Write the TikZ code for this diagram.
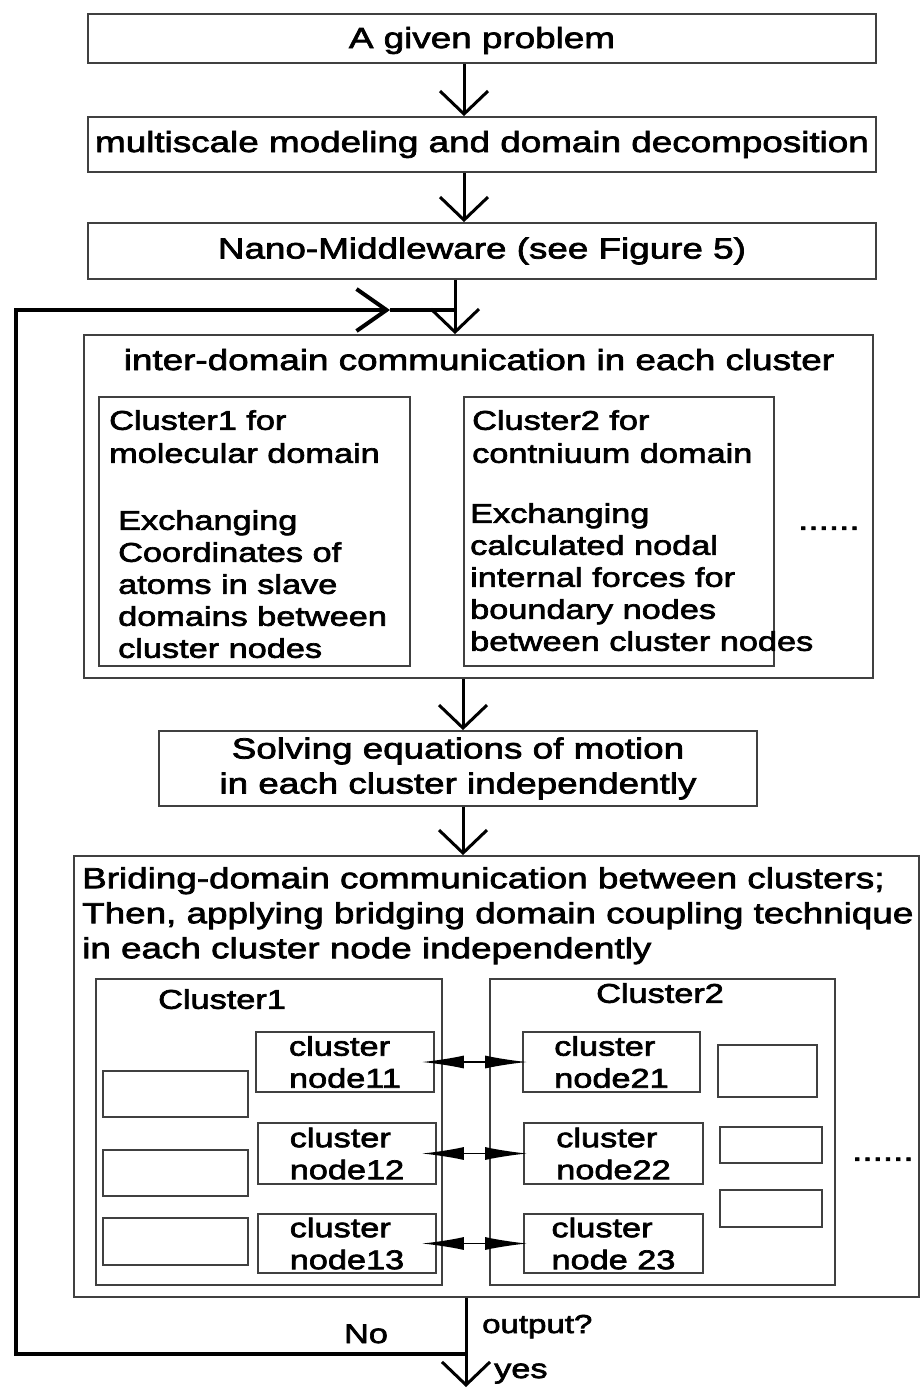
\documentclass[tikz,border=0pt]{standalone}
\usepackage{fontspec}
\setmainfont{Liberation Sans}[FakeStretch=1.27,FakeBold=2.5]
\usetikzlibrary{arrows.meta}

\tikzset{
  box/.style={draw=black!75,line width=1.8pt,inner sep=0pt,align=center},
  txt/.style={inner sep=0pt,align=left},
  small/.style={font=\fontsize{27}{32}\selectfont},
  flow/.style={line width=3pt,-{Straight Barb[length=23pt,width=48pt]}},
  loopline/.style={line width=4pt},
  dbl/.style={line width=1.5pt,{Latex[length=42pt,width=13pt]}-{Latex[length=42pt,width=13pt]}},
}

\begin{document}
\begin{tikzpicture}[x=1pt,y=-1pt,font=\fontsize{29}{32}\selectfont]
\useasboundingbox (0,0) rectangle (921,1390);
\coordinate (ax) at (464,0);
\coordinate (bx) at (455,0);
\coordinate (cx) at (463,0);
\coordinate (dx) at (466,0);
\coordinate (lb) at (16,1354);
\coordinate (lt) at (16,310);
\coordinate (lm) at (390,310);
\coordinate (lj) at (455,310);
\coordinate (yj) at (466,1354);
\coordinate (fin) at (466,1387);
\node[box,minimum width=788pt,minimum height=49pt,text depth=2pt] (given) at (482,38.5) {A given problem};
\node[box,minimum width=788pt,minimum height=55pt] (model) at (482,144.5) {multiscale modeling and domain decomposition};
\node[box,minimum width=788pt,minimum height=56pt] (nano) at (482,251) {Nano-Middleware (see Figure 5)};
\node[box,minimum width=789pt,minimum height=343pt] (inter) at (478.5,506.5) {};
\node[txt,anchor=base] (intertitle) at (479,370) {inter-domain communication in each cluster};
\node[box,minimum width=311pt,minimum height=269pt] (desc1) at (254.5,531.5) {};
\node[box,minimum width=310pt,minimum height=269pt] (desc2) at (619,531.5) {};
\node[txt,small,anchor=north west,font=\fontsize{27}{33}\selectfont] (head1) at (109,410) {Cluster1 for\\molecular domain};
\node[txt,small,anchor=north west] (job1) at (118,510) {Exchanging\\Coordinates of\\atoms in slave\\domains between\\cluster nodes};
\node[txt,small,anchor=north west,font=\fontsize{27}{33}\selectfont] (head2) at (472,410) {Cluster2 for\\contniuum domain};
\node[txt,small,anchor=north west] (job2) at (470,503) {Exchanging\\calculated nodal\\internal forces for\\boundary nodes\\between cluster nodes};
\node[txt,anchor=south west] (more1) at (798,530) {......};
\node[box,minimum width=598pt,minimum height=75pt,font=\fontsize{29}{35}\selectfont] (solve) at (458,768.5) {Solving equations of motion\\in each cluster independently};
\node[box,minimum width=845pt,minimum height=441pt] (bridge) at (496.5,1076.5) {};
\node[txt,anchor=north west,font=\fontsize{29}{35}\selectfont] (bridgetitle) at (82,867) {Briding-domain communication between clusters;\\Then, applying bridging domain coupling technique\\in each cluster node independently};
\node[box,minimum width=346pt,minimum height=306pt] (c1) at (269,1132) {};
\node[box,minimum width=345pt,minimum height=306pt] (c2) at (662.5,1132) {};
\node[txt,small,anchor=north west] (c1name) at (158,989) {Cluster1};
\node[txt,small,anchor=north west] (c2name) at (596,983) {Cluster2};
\node[box,small,align=left,minimum width=178pt,minimum height=60pt] (n11) at (345,1062) {cluster\\node11};
\node[box,small,align=left,minimum width=178pt,minimum height=61pt] (n12) at (347,1153.5) {cluster\\node12};
\node[box,small,align=left,minimum width=178pt,minimum height=59pt] (n13) at (347,1243.5) {cluster\\node13};
\node[box,small,align=left,minimum width=177pt,minimum height=60pt] (n21) at (611.5,1062) {cluster\\node21};
\node[box,small,align=left,minimum width=179pt,minimum height=61pt] (n22) at (613.5,1153.5) {cluster\\node22};
\node[box,small,align=left,minimum width=179pt,minimum height=59pt] (n23) at (613.5,1243.5) {cluster\\node 23};
\node[box,minimum width=145pt,minimum height=46pt] (e11) at (175.5,1094) {};
\node[box,minimum width=145pt,minimum height=46pt] (e12) at (175.5,1173) {};
\node[box,minimum width=145pt,minimum height=47pt] (e13) at (175.5,1241.5) {};
\node[box,minimum width=99pt,minimum height=52pt] (e21) at (767.5,1071) {};
\node[box,minimum width=102pt,minimum height=36pt] (e22) at (771,1145) {};
\node[box,minimum width=102pt,minimum height=37pt] (e23) at (771,1208.5) {};
\node[txt,anchor=south west] (more2) at (852,1161) {......};
\node[txt,anchor=base west,font=\fontsize{26}{32}\selectfont] (ask) at (482,1333) {output?};
\node[txt,small,anchor=base] (no) at (366,1343) {No};
\node[txt,small,anchor=base west] (yes) at (494,1378) {yes};
\draw[flow] (given.south -| ax) -- (model.north -| ax);
\draw[flow] (model.south -| ax) -- (nano.north -| ax);
\draw[flow] (nano.south -| bx) -- (inter.north -| bx);
\draw[flow] (inter.south -| cx) -- (solve.north -| cx);
\draw[flow] (solve.south -| cx) -- (bridge.north -| cx);
\draw[flow] (bridge.south -| dx) -- (fin);
\draw[loopline,-{Straight Barb[length=30pt,width=42pt]}] (yj) -- (lb) -- (lt) -- (lm);
\draw[loopline] (lm) -- (lj);
\draw[dbl,shorten <=-13pt,shorten >=-5pt] (n11.east) -- (n21.west);
\draw[dbl,shorten <=-15pt,shorten >=-4pt] (n12.east) -- (n22.west);
\draw[dbl,shorten <=-15pt,shorten >=-4pt] (n13.east) -- (n23.west);
\end{tikzpicture}
\end{document}
